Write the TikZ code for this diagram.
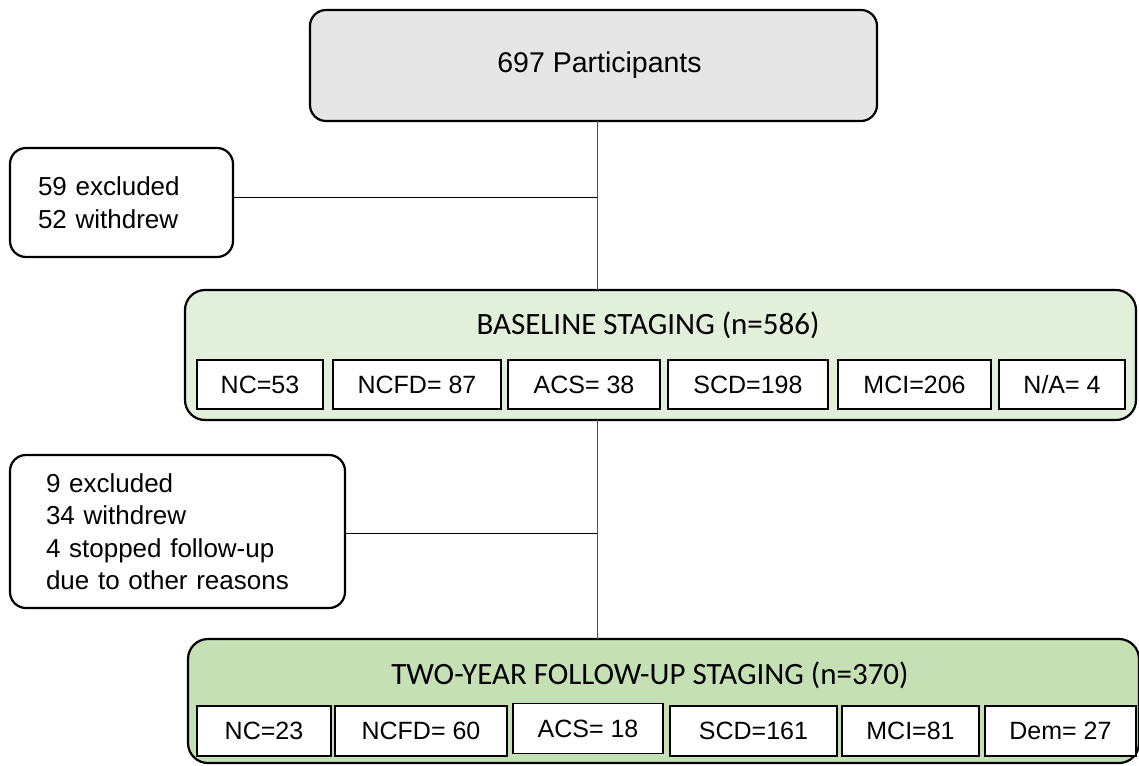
\documentclass[tikz,border=0pt]{standalone}
\usepackage{fontspec}
\setmainfont{Liberation Sans}
\newfontfamily\calib{Carlito}
\definecolor{topgray}{HTML}{E6E6E6}
\definecolor{lightgreen}{HTML}{E2EFDA}
\definecolor{midgreen}{HTML}{C5E0B4}
\begin{document}
\begin{tikzpicture}[x=1pt,y=-1pt,
  every node/.style={outer sep=0pt},
  bigbox/.style={draw=black, line width=2.2pt, rounded corners=16pt, inner sep=0pt},
  sidebox/.style={bigbox, fill=white, align=left, font=\fontsize{26}{32.5}\selectfont},
  cellbox/.style={draw=black, line width=1.6pt, fill=white, inner sep=0pt, font=\fontsize{25}{30}\selectfont},
  titletext/.style={font=\calib\fontsize{31}{36}\selectfont, inner sep=0pt},
  vconn/.style={draw=black!70, line width=1pt},
  hconn/.style={draw=black, line width=1pt}]
\useasboundingbox (0,0) rectangle (1139,765);

% top box
\node[bigbox, fill=topgray, minimum width=567pt, minimum height=111pt,
      font=\fontsize{28.5}{34}\selectfont] (top) at (593.5,65.5) {\hspace*{12pt}697 Participants};

% side boxes
\node[sidebox, minimum width=223pt, minimum height=109pt, text width=167pt,
      inner xsep=28pt] (ex1) at (121.5,202.5) {59 excluded\\52 withdrew};
\node[sidebox, minimum width=335pt, minimum height=153pt, text width=263pt,
      inner xsep=36pt] (ex2) at (177.5,531.5)
      {9 excluded\\34 withdrew\\4 stopped follow-up\\due to other reasons};

% baseline box
\node[bigbox, fill=lightgreen, rounded corners=20pt, minimum width=951pt, minimum height=130pt] (base) at (660.5,355) {};
\node[titletext] (baset) at (648,325) {BASELINE STAGING (n=586)};
\node[cellbox, minimum width=126pt, minimum height=49pt] (b1) at (260,384.5) {NC=53};
\node[cellbox, minimum width=168pt, minimum height=49pt] (b2) at (417,384.5) {NCFD= 87};
\node[cellbox, minimum width=152pt, minimum height=49pt] (b3) at (584,384.5) {ACS= 38};
\node[cellbox, minimum width=160pt, minimum height=49pt] (b4) at (748,384.5) {SCD=198};
\node[cellbox, minimum width=153pt, minimum height=49pt] (b5) at (914.5,384.5) {MCI=206};
\node[cellbox, minimum width=126pt, minimum height=49pt] (b6) at (1062,384.5) {N/A= 4};

% follow-up box
\node[bigbox, fill=midgreen, rounded corners=20pt, minimum width=951pt, minimum height=124pt] (fu) at (663.5,701) {};
\node[titletext] (fut) at (650,675) {TWO-YEAR FOLLOW-UP STAGING (n=370)};
\node[cellbox, minimum width=134pt, minimum height=50pt] (f1) at (264,731) {NC=23};
\node[cellbox, minimum width=172pt, minimum height=50pt] (f2) at (421,731) {NCFD= 60};
\node[cellbox, minimum width=150pt, minimum height=50pt] (f3) at (588,728.5) {ACS= 18};
\node[cellbox, minimum width=167pt, minimum height=50pt] (f4) at (753.5,731) {SCD=161};
\node[cellbox, minimum width=137pt, minimum height=50pt] (f5) at (910.5,731) {MCI=81};
\node[cellbox, minimum width=151pt, minimum height=50pt] (f6) at (1060.5,731) {Dem= 27};

% connectors
\coordinate (j1) at (597,197);
\coordinate (j2) at (597,533);
\draw[vconn] (top.south -| j1) -- (base.north -| j1);
\draw[vconn] (base.south -| j1) -- (fu.north -| j1);
\draw[hconn] (ex1.east |- j1) -- (j1);
\draw[hconn] (ex2.east |- j2) -- (j2);
\end{tikzpicture}
\end{document}
